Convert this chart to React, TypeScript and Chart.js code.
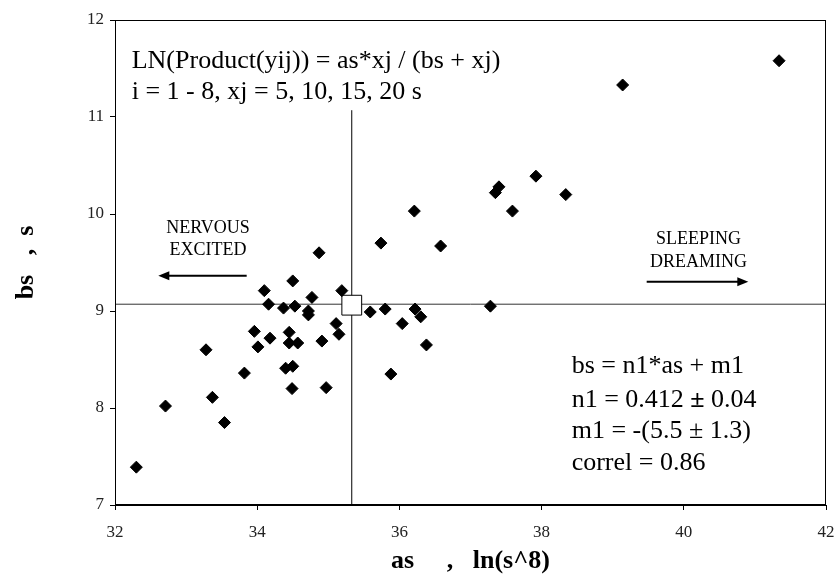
import React, { useEffect, useRef } from 'react';
import { Chart, registerables } from 'chart.js';

Chart.register(...registerables);

// ---- data (as, bs) ----
const asValues = [
  41.34, 39.14, 38.34, 37.92, 37.40, 37.35, 37.59, 36.21, 35.74, 36.58,
  34.87, 34.50, 35.19, 34.10, 34.77, 34.16, 34.37, 34.53, 34.72, 34.72,
  35.59, 35.80, 36.22, 36.30, 37.28, 36.04, 35.11, 35.15, 33.96, 34.45,
  34.18, 34.45, 34.57, 34.91, 36.38, 34.01, 33.28, 34.40, 34.50, 35.88,
  33.82, 34.49, 34.97, 33.37, 32.71, 33.54, 32.30,
];
const bsValues = [
  11.58, 11.33, 10.20, 10.39, 10.28, 10.22, 10.03, 10.03, 9.70, 9.67,
  9.60, 9.31, 9.21, 9.21, 9.14, 9.07, 9.03, 9.05, 9.00, 8.96,
  8.99, 9.02, 9.02, 8.94, 9.05, 8.87, 8.87, 8.76, 8.79, 8.78,
  8.72, 8.67, 8.67, 8.69, 8.65, 8.63, 8.60, 8.41, 8.43, 8.35,
  8.36, 8.20, 8.21, 8.11, 8.02, 7.85, 7.39,
];
const xTicks = [32, 34, 36, 38, 40, 42];
const yTicks = [7, 8, 9, 10, 11, 12];

// mean point and cross lines
const centerAs = 35.33;
const centerBs = 9.06;
const hLineBs = 9.07;
const vLineBottom = 7;
const vLineTop = 11.07;

const titleLines = ['LN(Product(yij)) = as*xj / (bs + xj)', 'i = 1 - 8, xj = 5, 10, 15, 20 s'];
const leftLabel = ['NERVOUS', 'EXCITED'];
const rightLabel = ['SLEEPING', 'DREAMING'];
const xTitle = 'as     ,   ln(s^8)';
const yTitle = 'bs   ,  s';

const SERIF = "'Liberation Serif', 'Times New Roman', Times, serif";
const WIDTH = 837;
const HEIGHT = 575;
const PLOT_RIGHT = 826;

const annotationPlugin = {
  id: 'annotations',
  afterDatasetsDraw(chart: any) {
    const { ctx, chartArea, scales } = chart;
    const x = scales.x;
    const y = scales.y;
    const px = (v: number) => x.getPixelForValue(v);
    const py = (v: number) => y.getPixelForValue(v);
    ctx.save();

    // frame
    ctx.strokeStyle = '#000';
    ctx.lineWidth = 1;
    const l = Math.round(chartArea.left) + 0.5;
    const t = Math.round(chartArea.top) + 0.5;
    const r = Math.round(chartArea.right) - 0.5;
    const b = Math.round(chartArea.bottom) - 0.5;
    ctx.strokeRect(l, t, r - l, b - t);

    ctx.fillStyle = '#000';
    ctx.textBaseline = 'alphabetic';

    // equation in top-left
    ctx.font = `26px ${SERIF}`;
    ctx.textAlign = 'left';
    ctx.fillText(titleLines[0], px(32.235), py(11.505));
    ctx.fillText(titleLines[1], px(32.235), py(11.186));

    // direction labels
    ctx.font = `18px ${SERIF}`;
    ctx.textAlign = 'center';
    ctx.fillText(leftLabel[0], px(33.308), py(9.804));
    ctx.fillText(leftLabel[1], px(33.308), py(9.577));
    ctx.fillText(rightLabel[0], px(40.207), py(9.691));
    ctx.fillText(rightLabel[1], px(40.207), py(9.457));

    // arrows
    const arrow = (x0: number, x1: number, yv: number) => {
      const ax0 = px(x0);
      const ax1 = px(x1);
      const ay = py(yv);
      const dir = Math.sign(ax1 - ax0);
      ctx.lineWidth = 2;
      ctx.beginPath();
      ctx.moveTo(ax0, ay);
      ctx.lineTo(ax1 - dir * 8, ay);
      ctx.stroke();
      ctx.beginPath();
      ctx.moveTo(ax1, ay);
      ctx.lineTo(ax1 - dir * 11, ay - 4.5);
      ctx.lineTo(ax1 - dir * 11, ay + 4.5);
      ctx.closePath();
      ctx.fill();
    };
    arrow(33.852, 32.609, 9.364);
    arrow(39.478, 40.907, 9.302);

    // regression stats
    ctx.font = `26px ${SERIF}`;
    ctx.textAlign = 'left';
    const sx = px(38.423);
    ctx.fillText('bs = n1*as + m1', sx, py(8.361));
    let cx = sx;
    const y2 = py(8.013);
    const seg1 = 'n1 = 0.412 ';
    ctx.fillText(seg1, cx, y2);
    cx += ctx.measureText(seg1).width;
    ctx.font = `bold 26px ${SERIF}`;
    ctx.fillText('\u00b1', cx, y2);
    cx += ctx.measureText('\u00b1').width;
    ctx.font = `26px ${SERIF}`;
    ctx.fillText(' 0.04', cx, y2);
    ctx.fillText('m1 = -(5.5 \u00b1 1.3)', sx, py(7.691));
    ctx.fillText('correl = 0.86', sx, py(7.361));

    // axis titles
    ctx.font = `bold 26px ${SERIF}`;
    ctx.textAlign = 'center';
    ctx.fillText(xTitle, (chartArea.left + chartArea.right) / 2, 568);
    ctx.save();
    ctx.translate(33, (chartArea.top + chartArea.bottom) / 2);
    ctx.rotate(-Math.PI / 2);
    ctx.fillText(yTitle, 0, 0);
    ctx.restore();

    ctx.restore();
  },
};

function makeConfig(): any {
  const points = asValues.map((a, i) => ({ x: a, y: bsValues[i] }));
  return {
    type: 'scatter',
    data: {
      datasets: [
        {
          label: 'data',
          data: points,
          pointStyle: 'rectRot',
          pointRadius: 6,
          pointBackgroundColor: '#000',
          pointBorderColor: '#000',
          pointBorderWidth: 1,
          order: 0,
        },
        {
          label: 'mean',
          data: [{ x: centerAs, y: centerBs }],
          pointStyle: 'rect',
          pointRadius: 14,
          pointBackgroundColor: '#fff',
          pointBorderColor: '#000',
          pointBorderWidth: 1,
          order: 1,
        },
        {
          label: 'hline',
          data: [{ x: xTicks[0], y: hLineBs }, { x: xTicks[xTicks.length - 1], y: hLineBs }],
          showLine: true,
          borderColor: '#333',
          borderWidth: 1,
          pointRadius: 0,
          order: 2,
        },
        {
          label: 'vline',
          data: [{ x: centerAs, y: vLineBottom }, { x: centerAs, y: vLineTop }],
          showLine: true,
          borderColor: '#000',
          borderWidth: 1,
          pointRadius: 0,
          order: 3,
        },
      ],
    },
    options: {
      responsive: false,
      maintainAspectRatio: false,
      animation: false,
      devicePixelRatio: 1,
      layout: { padding: { top: 20, right: WIDTH - PLOT_RIGHT, bottom: 0, left: 0 } },
      plugins: {
        legend: { display: false },
        tooltip: { enabled: false },
      },
      scales: {
        x: {
          type: 'linear',
          min: xTicks[0],
          max: xTicks[xTicks.length - 1],
          afterBuildTicks: (s: any) => {
            s.ticks = xTicks.map((v) => ({ value: v }));
          },
          afterFit: (s: any) => {
            s.height = 70;
            s.paddingLeft = 0;
            s.paddingRight = 0;
          },
          grid: { display: true, drawOnChartArea: false, drawTicks: true, tickLength: 5, color: '#000' },
          border: { display: true, color: '#000', width: 1 },
          ticks: {
            font: { family: SERIF, size: 17 },
            color: '#222',
            padding: 12,
            maxRotation: 0,
            callback: (v: any) => String(v),
          },
        },
        y: {
          type: 'linear',
          min: yTicks[0],
          max: yTicks[yTicks.length - 1],
          afterBuildTicks: (s: any) => {
            s.ticks = yTicks.map((v) => ({ value: v }));
          },
          afterFit: (s: any) => {
            s.width = 115;
            s.paddingTop = 0;
            s.paddingBottom = 0;
          },
          grid: { display: true, drawOnChartArea: false, drawTicks: true, tickLength: 5, color: '#000' },
          border: { display: true, color: '#000', width: 1 },
          ticks: {
            font: { family: SERIF, size: 17 },
            color: '#222',
            padding: 6,
            callback: (v: any) => String(v),
          },
        },
      },
    },
    plugins: [annotationPlugin],
  };
}

export default function App() {
  const canvasRef = useRef<HTMLCanvasElement | null>(null);

  useEffect(() => {
    const canvas = canvasRef.current;
    if (!canvas) return;
    const build = (w: number) => {
      canvas.width = w;
      canvas.height = HEIGHT;
      canvas.style.width = `${w}px`;
      canvas.style.height = `${HEIGHT}px`;
      return new Chart(canvas, makeConfig());
    };
    let chart = build(WIDTH);
    // make the plot's right edge land where it is in the reference
    const delta = Math.round(PLOT_RIGHT - chart.chartArea.right);
    if (delta !== 0) {
      chart.destroy();
      chart = build(WIDTH + delta);
    }
    return () => chart.destroy();
  }, []);

  return (
    <div style={{ position: 'absolute', left: 0, top: 0, width: WIDTH, height: HEIGHT, overflow: 'hidden', background: '#fff' }}>
      <canvas ref={canvasRef} width={WIDTH} height={HEIGHT} style={{ display: 'block' }} />
    </div>
  );
}
